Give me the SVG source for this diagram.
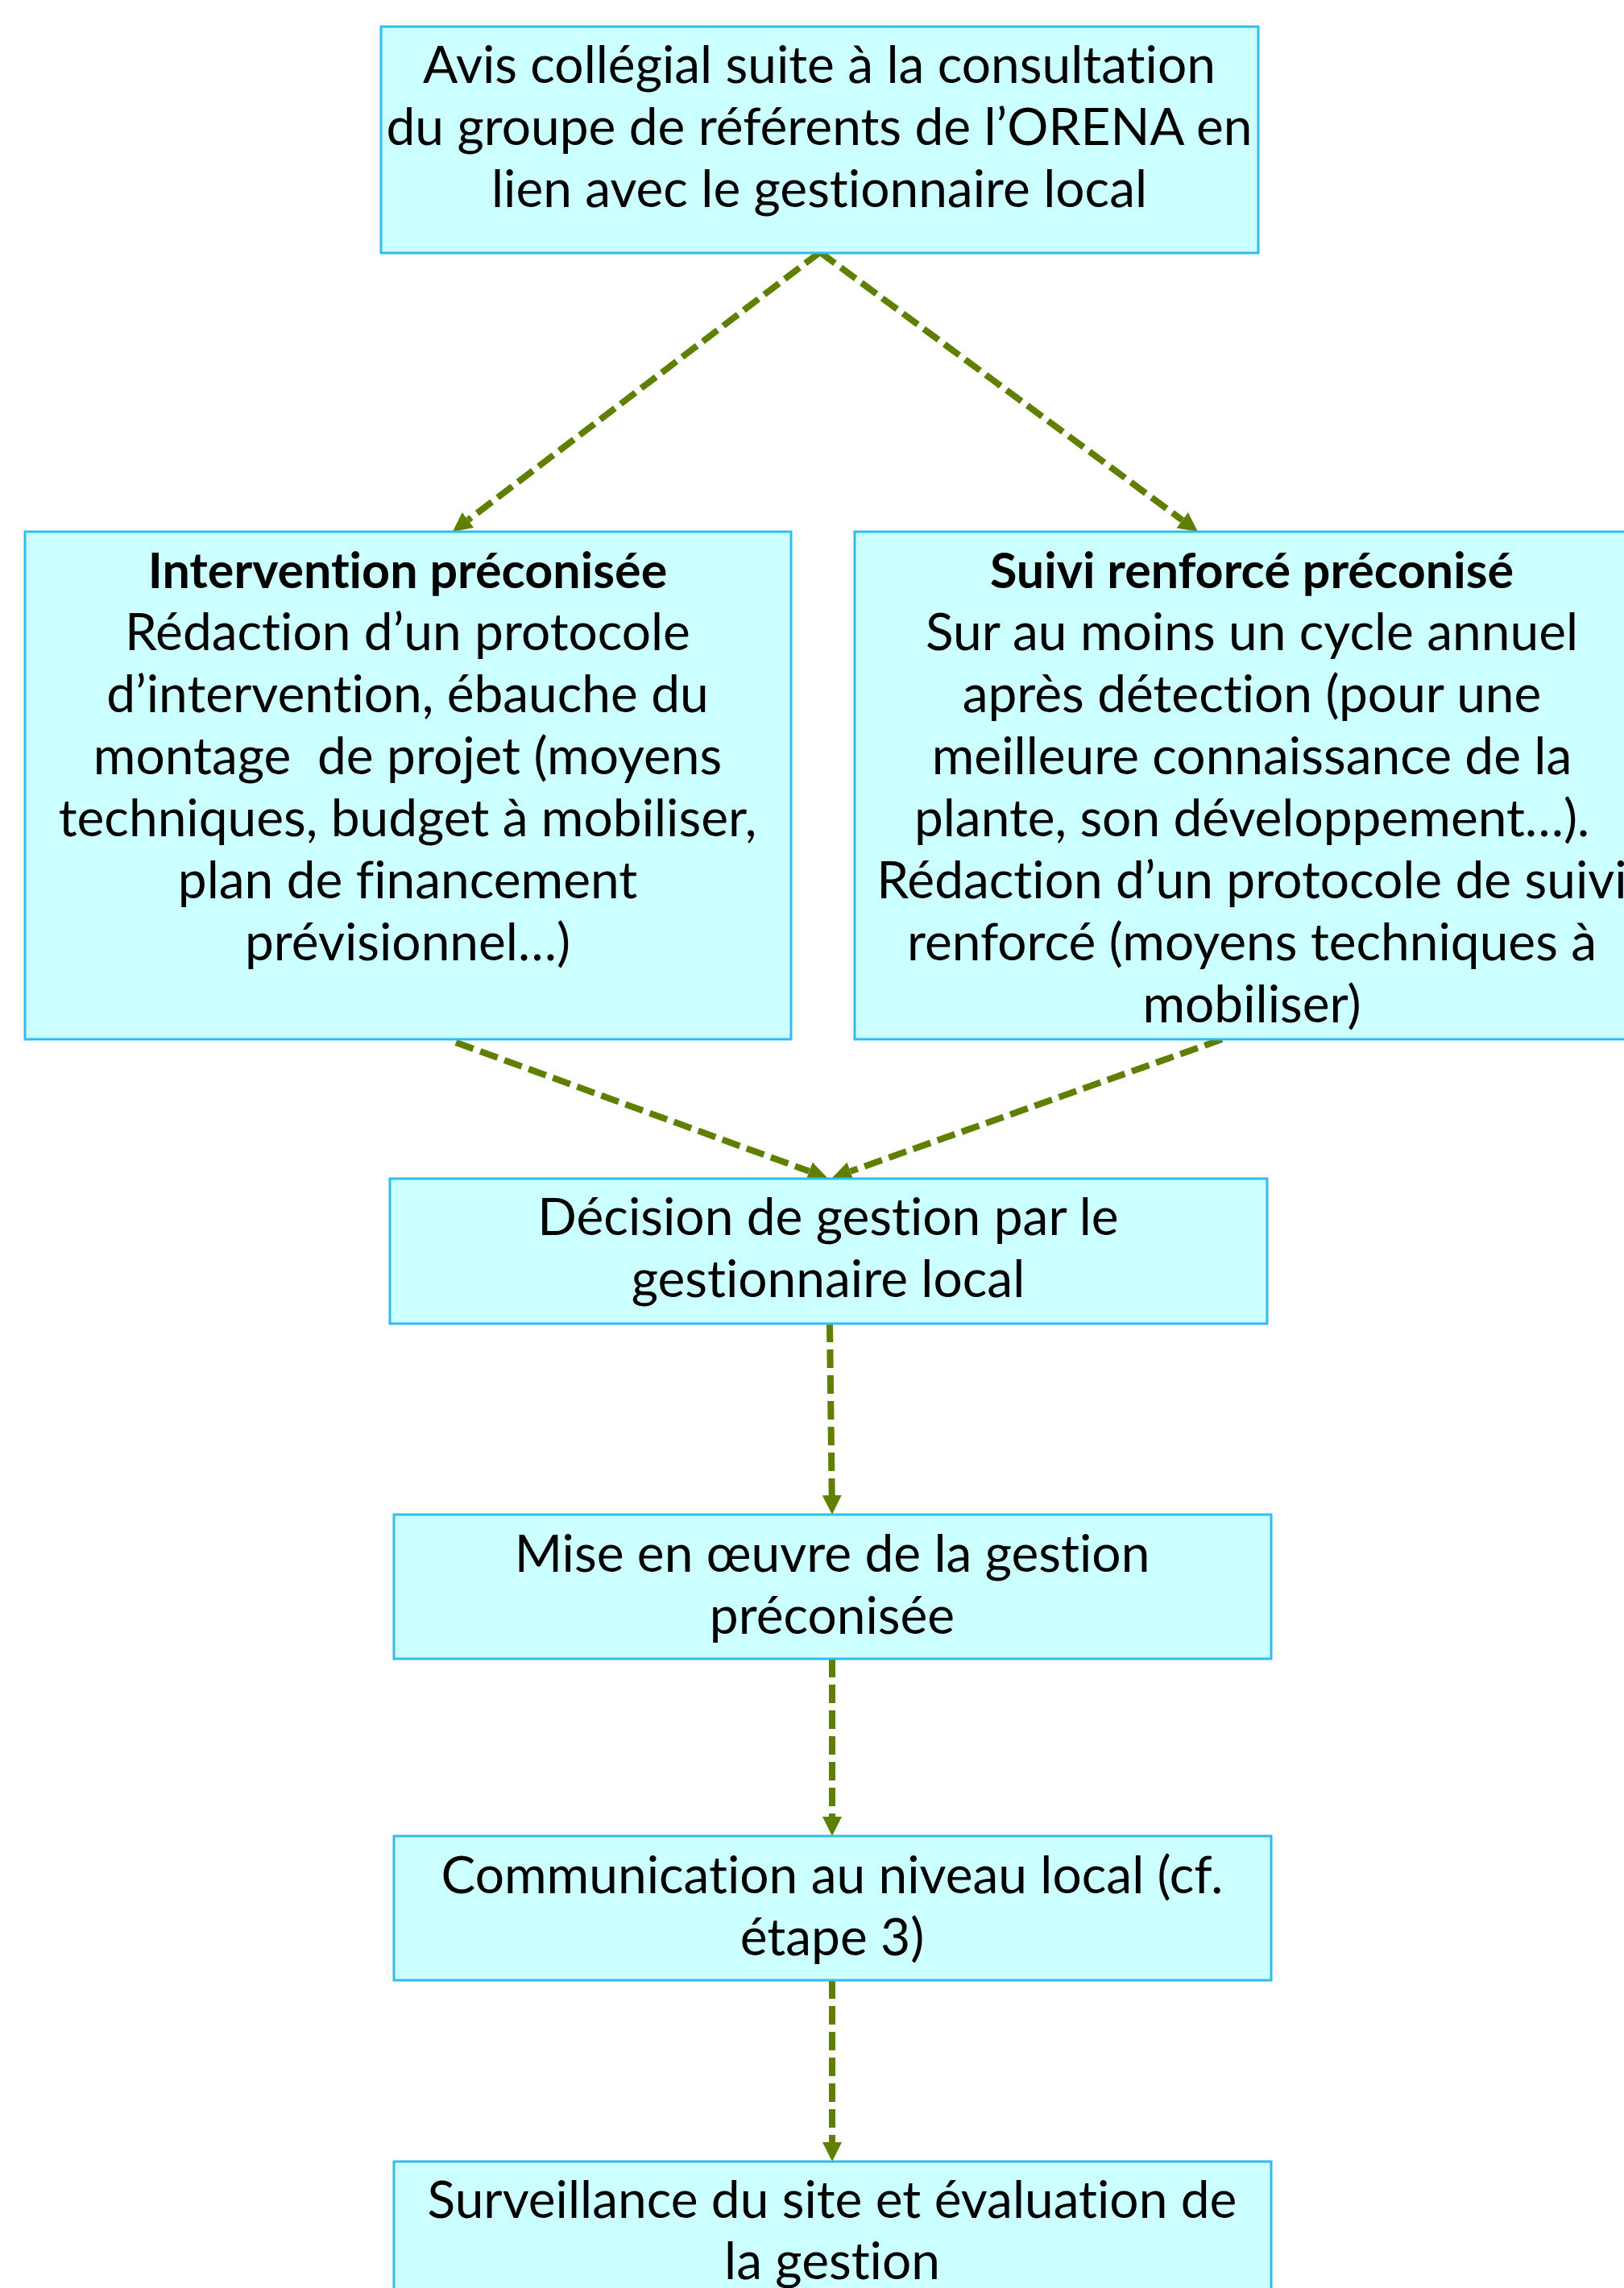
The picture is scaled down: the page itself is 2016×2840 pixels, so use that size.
<svg xmlns="http://www.w3.org/2000/svg" width="2016" height="2840" viewBox="0 0 2016 2840">
<defs>
<style>
.box{fill:#CCFFFF;stroke:#33BBEE;stroke-width:3}
.t{font-family:Lato,"Open Sans","Liberation Sans",sans-serif;font-size:64px;fill:#000;text-anchor:middle;font-variant-ligatures:none}
.b{font-weight:bold;font-size:61px}
.c{fill:none;stroke:#5F7F00;stroke-width:8;stroke-dasharray:23 9}
</style>
<marker id="ah" markerUnits="userSpaceOnUse" viewBox="0 0 24 24" refX="0" refY="12" markerWidth="24" markerHeight="24" orient="auto">
<path d="M0,0 L24,12 L0,24 Z" fill="#5F7F00"/>
</marker>
</defs>
<rect width="2016" height="2840" fill="#FFFFFF"/>
<g id="connectors">
<line class="c" x1="1018" y1="313" x2="581" y2="645.5" marker-end="url(#ah)"/>
<line class="c" x1="1018" y1="313" x2="1467.7" y2="645.7" marker-end="url(#ah)"/>
<line class="c" x1="566" y1="1294" x2="1004.5" y2="1453.8" marker-end="url(#ah)"/>
<line class="c" x1="1517" y1="1290" x2="1055.6" y2="1454" marker-end="url(#ah)"/>
<line class="c" x1="1030" y1="1643" x2="1032.7" y2="1856" marker-end="url(#ah)"/>
<line class="c" x1="1033" y1="2059" x2="1033" y2="2255" marker-end="url(#ah)"/>
<line class="c" x1="1033" y1="2458" x2="1033" y2="2659" marker-end="url(#ah)"/>
</g>
<g id="avis">
<rect class="box" x="473" y="33" width="1089" height="281"/>
<text class="t" x="1017" y="103">Avis collégial suite à la consultation</text>
<text class="t" x="1017" y="180">du groupe de référents de l’ORENA en</text>
<text class="t" x="1017" y="257">lien avec le gestionnaire local</text>
</g>
<g id="intervention">
<rect class="box" x="31" y="660" width="951" height="630"/>
<text class="t b" x="506" y="730">Intervention préconisée</text>
<text class="t" x="506" y="807">Rédaction d’un protocole</text>
<text class="t" x="506" y="884">d’intervention, ébauche du</text>
<text class="t" x="506" y="961" xml:space="preserve">montage  de projet (moyens</text>
<text class="t" x="506" y="1038">techniques, budget à mobiliser,</text>
<text class="t" x="506" y="1115">plan de financement</text>
<text class="t" x="506" y="1192">prévisionnel…)</text>
</g>
<g id="suivi">
<rect class="box" x="1061" y="660" width="986" height="630"/>
<text class="t b" x="1554" y="730">Suivi renforcé préconisé</text>
<text class="t" x="1554" y="807">Sur au moins un cycle annuel</text>
<text class="t" x="1554" y="884">après détection (pour une</text>
<text class="t" x="1554" y="961">meilleure connaissance de la</text>
<text class="t" x="1554" y="1038">plante, son développement…).</text>
<text class="t" x="1554" y="1115">Rédaction d’un protocole de suivi</text>
<text class="t" x="1554" y="1192">renforcé (moyens techniques à</text>
<text class="t" x="1554" y="1269">mobiliser)</text>
</g>
<g id="decision">
<rect class="box" x="484" y="1463" width="1089" height="180"/>
<text class="t" x="1028" y="1533">Décision de gestion par le</text>
<text class="t" x="1028" y="1610">gestionnaire local</text>
</g>
<g id="mise">
<rect class="box" x="489" y="1880" width="1089" height="179"/>
<text class="t" x="1033" y="1951">Mise en œuvre de la gestion</text>
<text class="t" x="1033" y="2028">préconisée</text>
</g>
<g id="communication">
<rect class="box" x="489" y="2279" width="1089" height="179"/>
<text class="t" x="1033" y="2350">Communication au niveau local (cf.</text>
<text class="t" x="1033" y="2427">étape 3)</text>
</g>
<g id="surveillance">
<rect class="box" x="489" y="2683" width="1089" height="179"/>
<text class="t" x="1033" y="2753">Surveillance du site et évaluation de</text>
<text class="t" x="1033" y="2829">la gestion</text>
</g>
</svg>
